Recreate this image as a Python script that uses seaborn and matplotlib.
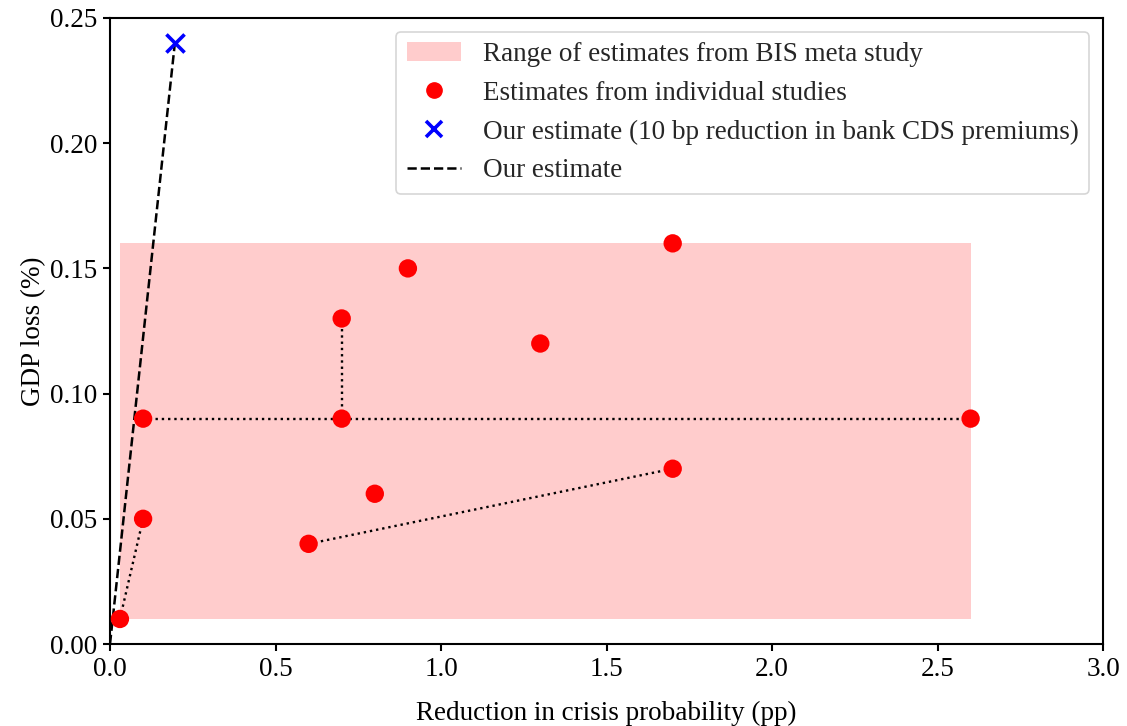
import matplotlib
matplotlib.use("Agg")
import matplotlib.pyplot as plt
import seaborn as sns
import pandas as pd
from matplotlib.patches import Patch
from matplotlib.lines import Line2D

# Data
study_x = [0.03, 0.1, 0.1, 0.6, 0.7, 0.7, 0.8, 0.9, 1.3, 1.7, 1.7, 2.6]
study_y = [0.01, 0.05, 0.09, 0.04, 0.09, 0.13, 0.06, 0.15, 0.12, 0.16, 0.07, 0.09]
# dotted connectors (pairs of study points)
link_x = [[0.03, 0.1], [0.1, 2.6], [0.7, 0.7], [0.6, 1.7]]
link_y = [[0.01, 0.05], [0.09, 0.09], [0.09, 0.13], [0.04, 0.07]]
bis_x = [0.03, 2.6]
bis_y = [0.01, 0.16]
our_x = [0.0, 0.196]
our_y = [0.0, 0.24]
x_ticks = [0.0, 0.5, 1.0, 1.5, 2.0, 2.5, 3.0]
y_ticks = [0.00, 0.05, 0.10, 0.15, 0.20, 0.25]

sns.set_style("ticks")
plt.rcParams['font.family'] = ['Liberation Serif', 'DejaVu Serif']
plt.rcParams['mathtext.fontset'] = 'stix'

FS = 19.5
fig = plt.figure(figsize=(11.27, 7.26), dpi=100)
ax = fig.add_axes([110/1127, 1 - 644/726, (1103-110)/1127, (644-18)/726])

ax.fill_between(bis_x, [bis_y[0]]*2, [bis_y[1]]*2, color='#ffcccc', lw=0, zorder=1)

for lx, ly in zip(link_x, link_y):
    ax.plot(lx, ly, color='black', ls=':', lw=1.7, zorder=2)

ax.plot(our_x, our_y, color='black', ls='--', lw=1.8, zorder=2)

df = pd.DataFrame({"x": study_x, "y": study_y})
sns.scatterplot(data=df, x="x", y="y", ax=ax, color='red', s=175, edgecolor='none', zorder=3, legend=False)
ax.scatter([our_x[1]], [our_y[1]], marker='x', color='blue', s=170, linewidths=2.6, zorder=4)

ax.set_xlim(0, 3)
ax.set_ylim(0, 0.25)
ax.set_xticks(x_ticks)
ax.set_xticklabels([f"{v:.1f}" for v in x_ticks])
ax.set_yticks(y_ticks)
ax.set_yticklabels([f"{v:.2f}" for v in y_ticks])
ax.tick_params(labelsize=FS, width=1.5, length=5, color='black', labelcolor='black', pad=4)
for s in ax.spines.values():
    s.set_visible(True)
    s.set_color('black')
    s.set_linewidth(1.5)
ax.set_xlabel("Reduction in crisis probability (pp)", fontsize=FS, color='black', labelpad=14)
ax.set_ylabel("GDP loss (%)", fontsize=FS, color='black', labelpad=3)

handles = [
    Patch(facecolor='#ffcccc', edgecolor='none', label='Range of estimates from BIS meta study'),
    Line2D([], [], marker='o', color='red', ls='none', markersize=11, label='Estimates from individual studies'),
    Line2D([], [], marker='x', color='blue', ls='none', markersize=12, markeredgewidth=2.6,
           label='Our estimate (10 bp reduction in bank CDS premiums)'),
    Line2D([], [], color='black', ls='--', lw=1.8, label='Our estimate'),
]
leg = ax.legend(handles=handles, loc='upper right', fontsize=FS, frameon=True,
                bbox_to_anchor=(1.0, 1.0), handlelength=2.0, borderpad=0.4, labelspacing=0.5,
                fancybox=True)
leg.get_frame().set_edgecolor('#cccccc')
leg.get_frame().set_linewidth(1.2)

fig.savefig("out.png", dpi=100)
